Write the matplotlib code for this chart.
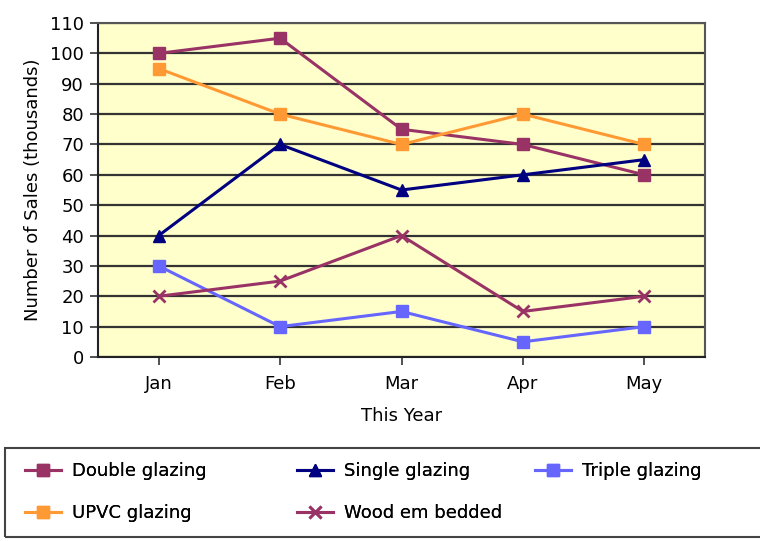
import numpy as np
import matplotlib.pyplot as plt
from matplotlib.patches import Rectangle

plt.rcParams['font.family'] = ['DejaVu Sans']

months = ['Jan', 'Feb', 'Mar', 'Apr', 'May']
double_glazing = [100, 105, 75, 70, 60]
single_glazing = [40, 70, 55, 60, 65]
triple_glazing = [30, 10, 15, 5, 10]
upvc_glazing = [95, 80, 70, 80, 70]
wood_embedded = [20, 25, 40, 15, 20]
y_ticks = list(range(0, 111, 10))

fig = plt.figure(figsize=(7.6, 5.41), dpi=100)
ax = fig.add_axes([98 / 760, 1 - 357 / 541, 607 / 760, 334 / 541])
ax.set_facecolor('#FFFFCC')

x = np.arange(len(months))
series = {
    'Double glazing': (double_glazing, '#993366', 's'),
    'Single glazing': (single_glazing, '#000080', '^'),
    'Triple glazing': (triple_glazing, '#6666FF', 's'),
    'UPVC glazing': (upvc_glazing, '#FF9933', 's'),
    'Wood em bedded': (wood_embedded, '#993366', 'x'),
}
handles = {}
for name, (vals, col, mk) in series.items():
    h, = ax.plot(x, vals, color=col, marker=mk, markersize=9, linewidth=2.2,
                 markeredgewidth=2 if mk == 'x' else 1, label=name, zorder=3)
    handles[name] = h

ax.set_xlim(-0.5, 4.5)
ax.set_ylim(0, 110)
ax.set_yticks(y_ticks)
ax.set_xticks(x)
ax.set_xticklabels(months)
ax.yaxis.grid(True, color='#333333', linewidth=1.6)
ax.set_axisbelow(True)
ax.tick_params(axis='both', direction='out', length=6, width=1.2, labelsize=13,
               color='#333333', pad=4)
ax.tick_params(axis='x', pad=7)
for s in ax.spines.values():
    s.set_color('#555555')
    s.set_linewidth(1.5)
ax.spines['left'].set_color('#222222')
ax.spines['bottom'].set_color('#222222')
ax.set_xlabel('This Year', fontsize=13, labelpad=10)
ax.set_ylabel('Number of Sales (thousands)', fontsize=13, labelpad=6)

# legend box below the plot, cut off at the right edge
fig.patches.append(Rectangle((5 / 760, 1 - 537 / 541), 760 / 760, 89 / 541,
                             transform=fig.transFigure, fill=False,
                             edgecolor='#444444', linewidth=1.5))
columns = [['Double glazing', 'UPVC glazing'],
           ['Single glazing', 'Wood em bedded'],
           ['Triple glazing']]
col_x = [25, 297, 535]
for names, cx in zip(columns, col_x):
    leg = fig.legend(handles=[handles[n] for n in names], labels=names,
                     loc='upper left', bbox_to_anchor=(cx / 760, 1 - 462 / 541),
                     frameon=False, fontsize=13, handlelength=2.0,
                     handletextpad=0.6, labelspacing=1.35, borderpad=0,
                     borderaxespad=0, markerscale=0.9)
    fig.add_artist(leg)

plt.savefig('out.png', dpi=100)
